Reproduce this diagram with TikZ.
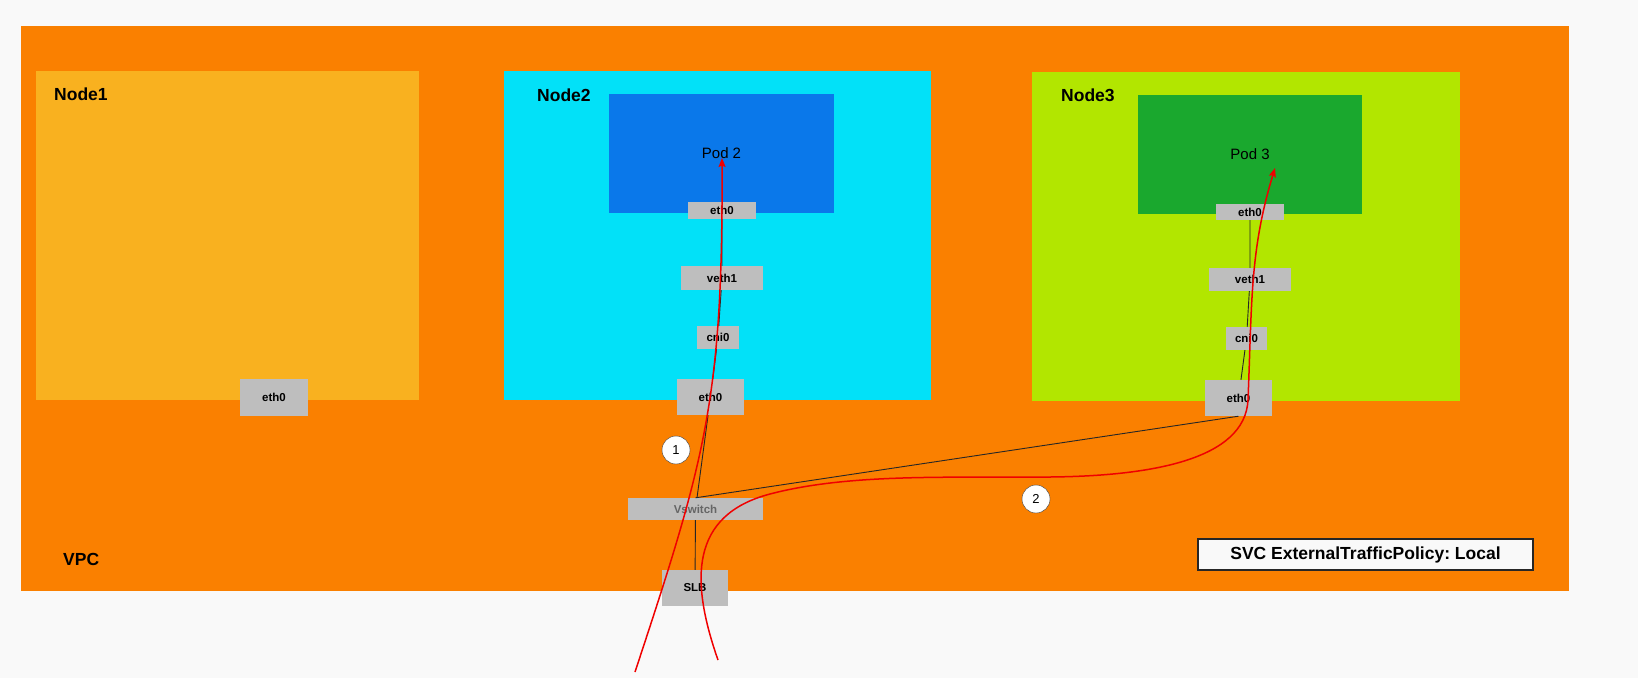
\documentclass[tikz,border=0pt]{standalone}
\usepackage{fontspec}
\setmainfont{Liberation Sans}
\usetikzlibrary{arrows.meta}
\definecolor{pagegrey}{RGB}{249,249,249}
\definecolor{vpcorange}{RGB}{250,128,0}
\definecolor{nodegold}{RGB}{249,177,31}
\definecolor{nodecyan}{RGB}{2,225,248}
\definecolor{podblue}{RGB}{10,120,234}
\definecolor{nodelime}{RGB}{178,230,0}
\definecolor{podgreen}{RGB}{26,168,46}
\definecolor{ifgrey}{RGB}{190,190,190}
\definecolor{flowred}{RGB}{240,0,0}
\begin{document}
\begin{tikzpicture}[x=1pt,y=-1pt,
		area/.style={anchor=north west, inner sep=0pt},
		title/.style={anchor=west, inner sep=0pt, font=\bfseries\fontsize{17.5}{20}\selectfont},
		pod/.style={inner sep=0pt, font=\fontsize{15}{18}\selectfont},
		iface/.style={fill=ifgrey, inner sep=0pt, font=\bfseries\fontsize{11.5}{13}\selectfont},
		num/.style={circle, draw=black!75, fill=white, minimum size=28pt, inner sep=0pt, font=\fontsize{13}{15}\selectfont},
		link/.style={black!85, line width=0.9pt},
		flow/.style={flowred, line width=1.5pt, -{Stealth[length=9pt,width=7pt,inset=1.5pt]}}]
		\path[fill=pagegrey] (0,0) rectangle (1638,678);
		\node[area, fill=vpcorange, minimum width=1548pt, minimum height=565pt] (vpc) at (21,26) {};
		\node[area, fill=nodegold, minimum width=383pt, minimum height=329pt] (node1) at (36,71) {};
		\node[area, fill=nodecyan, minimum width=427pt, minimum height=329pt] (node2) at (504,71) {};
		\node[area, fill=nodelime, minimum width=428pt, minimum height=329pt] (node3) at (1032,72) {};
		\node[title] (node1lbl) at (54,94) {Node1};
		\node[title] (node2lbl) at (537,95) {Node2};
		\node[title] (node3lbl) at (1061,95) {Node3};
		\node[title] (vpclbl) at (63,559) {VPC};
		\node[pod, fill=podblue, minimum width=225pt, minimum height=119pt] (pod2) at (721.5,153.5) {Pod 2};
		\node[pod, fill=podgreen, minimum width=224pt, minimum height=119pt] (pod3) at (1250,154.5) {Pod 3};

		\node[iface, minimum width=68pt, minimum height=37pt] (n1eth0) at (274,397.5) {eth0};
		\node[iface, minimum width=68pt, minimum height=17pt] (p2eth0) at (722,210.5) {eth0};
		\node[iface, minimum width=82pt, minimum height=24pt] (n2veth1) at (722,278) {veth1};
		\node[iface, minimum width=42pt, minimum height=23pt] (n2cni0) at (718,337.5) {cni0};
		\node[iface, minimum width=67pt, minimum height=36pt] (n2eth0) at (710.5,397) {eth0};
		\node[iface, minimum width=68pt, minimum height=16pt] (p3eth0) at (1250,212) {eth0};
		\node[iface, minimum width=82pt, minimum height=23pt] (n3veth1) at (1250,279.5) {veth1};
		\node[iface, minimum width=41pt, minimum height=23pt] (n3cni0) at (1246.5,338.5) {cni0};
		\node[iface, minimum width=67pt, minimum height=36pt] (n3eth0) at (1238.5,398) {eth0};
		\node[iface, text=black!60, minimum width=135pt, minimum height=22pt] (vswitch) at (695.5,509) {Vswitch};
		\node[iface, minimum width=66pt, minimum height=36pt] (slb) at (695,588) {SLB};

		\node[num] (step1) at (676,450) {1};
		\node[num] (step2) at (1036,499) {2};
		\node[draw=black!85, line width=1.5pt, fill=pagegrey, minimum width=335pt, minimum height=31pt, inner sep=0pt, font=\bfseries\fontsize{17.5}{20}\selectfont] (policy) at (1365.5,554.5) {\frenchspacing SVC ExternalTrafficPolicy: Local};

		\draw[link] (p2eth0) -- (n2veth1) -- (n2cni0) -- (n2eth0) -- (vswitch) -- (slb);
		\draw[link] (p3eth0) -- (n3veth1) -- (n3cni0) -- (n3eth0);
		\draw[link] (vswitch.north) -- (n3eth0.south);

		\coordinate (in1) at (635,672);
		\coordinate (in2) at (718,660);
		\coordinate (tip2) at (722,158);
		\coordinate (tip3) at (1275,168);
		\draw[flow] (in1) .. controls (705,460) and (723,400) .. (tip2);
		\draw[flow] (in2) .. controls (690,580) and (690,515) .. (770,494) .. controls (850,473) and (950,478) .. (1050,477) .. controls (1150,476) and (1245,460) .. (1248,400) .. controls (1252,300) and (1250,250) .. (tip3);
	\end{tikzpicture}
\end{document}
